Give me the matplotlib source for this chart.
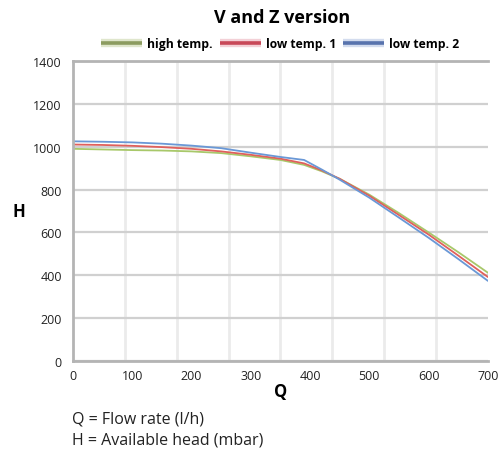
import matplotlib
matplotlib.use("Agg")
import matplotlib.pyplot as plt
from matplotlib.lines import Line2D
from matplotlib.legend_handler import HandlerTuple
import numpy as np

plt.rcParams['font.family'] = ['Open Sans', 'DejaVu Sans']

# Pump curves: flow rate Q (l/h) vs available head H (mbar)
flow = [0, 50, 100, 150, 200, 250, 300, 350, 390, 420, 450, 500, 550, 600, 650, 700]
high_temp = [990, 987, 984, 982, 978, 970, 955, 938, 915, 885, 850, 776, 690, 600, 508, 412]
low_temp_1 = [1010, 1008, 1004, 998, 990, 978, 962, 944, 922, 889, 850, 771, 681, 590, 492, 392]
low_temp_2 = [1025, 1023, 1020, 1014, 1005, 993, 972, 952, 938, 893, 846, 762, 669, 575, 476, 374]

series_labels = ["high temp.", "low temp. 1", "low temp. 2"]
series_colors = ["#a8c86a", "#e0605c", "#6a98d6"]
legend_core = ["#8c9c60", "#c84858", "#5873ad"]
legend_halo = ["#dfe6cc", "#f3d0d6", "#d3dcee"]

x_ticks = [0, 100, 200, 300, 400, 500, 600, 700]
y_ticks = [0, 200, 400, 600, 800, 1000, 1200, 1400]

fig = plt.figure(figsize=(5.03, 4.52), dpi=100)
ax = fig.add_axes([0.145, 0.199, 0.825, 0.664])

for vals, lab, col in zip([high_temp, low_temp_1, low_temp_2], series_labels, series_colors):
    ax.plot(flow, vals, color=col, lw=1.3, label=lab, solid_capstyle='round')

ax.set_xlim(0, 700)
ax.set_ylim(0, 1400)
ax.set_xticks(x_ticks)
ax.set_yticks(y_ticks)
ax.set_xticks(np.arange(87.5, 700, 87.5), minor=True)
ax.tick_params(axis='both', which='both', length=0, labelsize=9, colors='#222222')
ax.tick_params(axis='x', pad=6)
ax.tick_params(axis='y', pad=8)

ax.grid(False)
ax.yaxis.grid(True, which='major', color='#d0d0d0', lw=1.6)
ax.xaxis.grid(True, which='minor', color='#ebebeb', lw=2.0)
ax.set_axisbelow(True)

for side in ['left', 'bottom', 'top']:
    ax.spines[side].set_color('#b4b4b4')
    ax.spines[side].set_linewidth(2)
ax.spines['right'].set_visible(False)

ax.set_xlabel("Q", fontsize=12, fontweight='bold', labelpad=0)
ax.set_ylabel("H", fontsize=12, fontweight='bold', rotation=0, labelpad=10, va='center')

fig.text(0.561, 0.960, "V and Z version", ha='center', va='center', fontsize=13, fontweight='bold')

handles = [(Line2D([], [], color=h, lw=6, solid_capstyle='butt'),
            Line2D([], [], color=c, lw=2.6, solid_capstyle='butt'))
           for h, c in zip(legend_halo, legend_core)]
leg = fig.legend(handles, series_labels, loc='center', bbox_to_anchor=(0.557, 0.902), ncol=3,
                 frameon=False, prop={'weight': 'bold', 'size': 8.7}, handlelength=3.4,
                 handletextpad=0.45, columnspacing=0.55,
                 handler_map={tuple: HandlerTuple(ndivide=1, pad=0)})

fig.text(0.143, 0.071, "Q = Flow rate (l/h)", fontsize=11.5, va='center', color='#222222')
fig.text(0.143, 0.026, "H = Available head (mbar)", fontsize=11.5, va='center', color='#222222')

fig.savefig("out.png", dpi=100)
